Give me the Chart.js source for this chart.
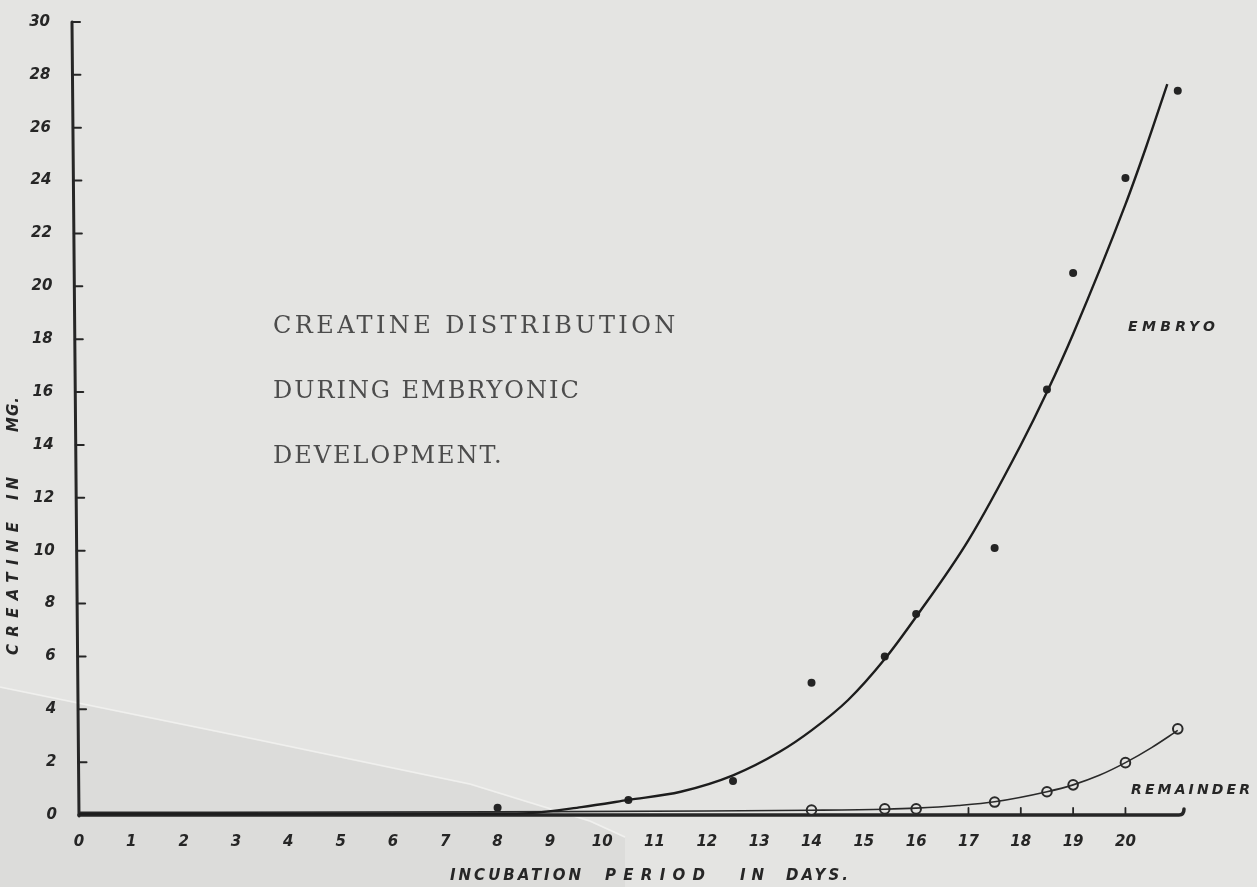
<!DOCTYPE html>
<html>
<head>
<meta charset="utf-8">
<script src="https://cdn.jsdelivr.net/npm/chart.js@4.4.1/dist/chart.umd.min.js"></script>
<style>
  html, body { margin: 0; padding: 0; background: #e4e4e2; overflow: hidden; }
  #wrap { width: 1257px; height: 887px; position: relative; }
</style>
</head>
<body>
<div id="wrap"><canvas id="c" width="1257" height="887"></canvas></div>
<script>
// Creatine (mg) determined in the embryo, by day of incubation
const embryoDays   = [8, 10.5, 12.5, 14, 15.4, 16, 17.5, 18.5, 19, 20, 21];
const embryoValues = [0.27, 0.57, 1.29, 5.0, 6.0, 7.6, 10.1, 16.1, 20.5, 24.1, 27.4];

// Creatine (mg) in the remainder of the egg
const remainderDays   = [14, 15.4, 16, 17.5, 18.5, 19, 20, 21];
const remainderValues = [0.19, 0.23, 0.23, 0.49, 0.88, 1.14, 1.98, 3.26];

// Smooth curves drawn through the determinations
const embryoCurveDays   = [0, 8, 8.6, 9.6, 10.5, 11.5, 12.5, 13.4, 14, 14.7, 15.4, 16, 17, 18, 18.5, 19, 20, 20.4, 20.8];
const embryoCurveValues = [0.04, 0.05, 0.07, 0.3, 0.57, 0.88, 1.5, 2.4, 3.2, 4.35, 5.9, 7.5, 10.4, 14.0, 16.0, 18.2, 23.1, 25.3, 27.65];
const remainderCurveDays   = [0, 8, 12, 14, 15.4, 16, 16.8, 17.5, 18.5, 19, 19.5, 20, 20.5, 21];
const remainderCurveValues = [0.1, 0.12, 0.15, 0.18, 0.22, 0.26, 0.36, 0.5, 0.88, 1.14, 1.5, 1.98, 2.55, 3.2];

// Text
const titleLines = ['CREATINE DISTRIBUTION', 'DURING EMBRYONIC', 'DEVELOPMENT.'];
const xTitleWords = ['INCUBATION', 'PERIOD', 'IN', 'DAYS.'];
const yTitleWords = ['CREATINE', 'IN', 'MG.'];
const seriesNames = ['EMBRYO', 'REMAINDER'];

const PAPER = '#e4e4e2';
const INK = '#262626';
const TICK_FONT = 'italic bold 15px "DejaVu Sans"';

const pts = (xs, ys) => xs.map((d, i) => ({ x: d, y: ys[i] }));

// Spread a word so that it covers the given width, left aligned
function spaced(ctx, text, x, y, width) {
  ctx.letterSpacing = '0px';
  const w = ctx.measureText(text).width;
  const n = text.length;
  const ls = n > 1 ? (width - w) / (n - 1) : 0;
  ctx.letterSpacing = ls + 'px';
  ctx.textAlign = 'left';
  ctx.fillText(text, x, y);
  ctx.letterSpacing = '0px';
}

const paper = {
  id: 'paper',
  beforeDraw(chart) {
    const ctx = chart.ctx;
    ctx.save();
    ctx.fillStyle = PAPER;
    ctx.fillRect(0, 0, chart.width, chart.height);
    // creased, slightly darker corner of the sheet
    ctx.beginPath();
    ctx.moveTo(0, 688);
    ctx.lineTo(240, 737);
    ctx.lineTo(470, 785);
    ctx.lineTo(590, 822);
    ctx.lineTo(625, 838);
    ctx.lineTo(625, 887);
    ctx.lineTo(0, 887);
    ctx.closePath();
    ctx.fillStyle = '#dcdcda';
    ctx.fill();
    ctx.beginPath();
    ctx.moveTo(0, 687);
    ctx.lineTo(240, 736);
    ctx.lineTo(470, 784);
    ctx.lineTo(590, 821);
    ctx.lineTo(625, 837);
    ctx.strokeStyle = '#f0f0ee';
    ctx.lineWidth = 1.5;
    ctx.stroke();
    ctx.restore();
  }
};

const axes = {
  id: 'axes',
  beforeDatasetsDraw(chart) {
    const { ctx, scales: { x, y } } = chart;
    const x0 = x.getPixelForValue(0);
    const y0 = y.getPixelForValue(0);
    const yMax = y.max;
    const lean = 7; // the upright leans slightly left toward its top
    const axisX = v => x0 - lean * (v / yMax);
    ctx.save();
    ctx.strokeStyle = INK;
    ctx.fillStyle = INK;
    ctx.lineCap = 'round';
    // vertical axis
    ctx.lineWidth = 3;
    ctx.beginPath();
    ctx.moveTo(x0, y0 + 1);
    ctx.lineTo(axisX(yMax), y.getPixelForValue(yMax));
    ctx.stroke();
    // inward ticks and their labels on the vertical axis
    ctx.lineWidth = 2;
    ctx.font = TICK_FONT;
    ctx.textAlign = 'right';
    ctx.textBaseline = 'middle';
    y.ticks.forEach(t => {
      const py = y.getPixelForValue(t.value);
      const ax = axisX(t.value);
      if (t.value !== 0) {
        ctx.beginPath();
        ctx.moveTo(ax, py);
        ctx.lineTo(ax + 8, py);
        ctx.stroke();
      }
      ctx.fillText(t.label !== undefined ? String(t.label) : String(t.value), ax - 22, py);
    });
    // horizontal axis with a small upturned end
    const xEnd = x.getPixelForValue(x.max);
    ctx.lineWidth = 3.5;
    ctx.beginPath();
    ctx.moveTo(x0, y0);
    ctx.lineTo(xEnd - 4, y0);
    ctx.quadraticCurveTo(xEnd + 1, y0, xEnd + 1, y0 - 6);
    ctx.stroke();
    // upward ticks, visible over the last days
    ctx.lineWidth = 1.8;
    x.ticks.forEach(t => {
      if (t.value < 17 || t.value > 20) return;
      const px = x.getPixelForValue(t.value);
      ctx.beginPath();
      ctx.moveTo(px, y0);
      ctx.lineTo(px, y0 - 7);
      ctx.stroke();
    });
    ctx.restore();
  }
};

const lettering = {
  id: 'lettering',
  afterDraw(chart) {
    const ctx = chart.ctx;
    ctx.save();
    // typed title
    ctx.font = '24px "DejaVu Serif"';
    ctx.fillStyle = '#4c4c4c';
    ctx.textBaseline = 'alphabetic';
    const pitch = 19.3;
    titleLines.forEach((line, i) => {
      spaced(ctx, line, 273, 333 + i * 65, line.length * pitch - 3);
    });

    // hand lettering
    ctx.fillStyle = INK;
    ctx.font = 'italic bold 14px "DejaVu Sans"';
    spaced(ctx, seriesNames[0], 1128, 331, 87);
    spaced(ctx, seriesNames[1], 1131, 794, 119);

    // horizontal axis title
    ctx.font = 'italic bold 15px "DejaVu Sans"';
    const xPos = [[450, 131], [605, 100], [740, 24], [786, 62]];
    xTitleWords.forEach((w, i) => spaced(ctx, w, xPos[i][0], 880, xPos[i][1]));

    // vertical axis title, reading upward
    const yPos = [[655, 133], [500, 23], [432, 35]];
    yTitleWords.forEach((w, i) => {
      ctx.save();
      ctx.translate(18, yPos[i][0]);
      ctx.rotate(-Math.PI / 2);
      spaced(ctx, w, 0, 0, yPos[i][1]);
      ctx.restore();
    });
    ctx.restore();
  }
};

new Chart(document.getElementById('c'), {
  type: 'scatter',
  data: {
    datasets: [
      {
        label: 'Embryo curve',
        data: pts(embryoCurveDays, embryoCurveValues),
        showLine: true,
        pointRadius: 0,
        borderColor: '#1d1d1d',
        borderWidth: 2.4,
        cubicInterpolationMode: 'monotone',
        fill: false
      },
      {
        label: 'Remainder curve',
        data: pts(remainderCurveDays, remainderCurveValues),
        showLine: true,
        pointRadius: 0,
        borderColor: '#2a2a2a',
        borderWidth: 1.6,
        cubicInterpolationMode: 'monotone',
        fill: false
      },
      {
        label: seriesNames[0],
        data: pts(embryoDays, embryoValues),
        showLine: false,
        pointRadius: 4,
        pointBackgroundColor: '#242424',
        pointBorderWidth: 0
      },
      {
        label: seriesNames[1],
        data: pts(remainderDays, remainderValues),
        showLine: false,
        pointRadius: 4.8,
        pointBackgroundColor: PAPER,
        pointBorderColor: '#2a2a2a',
        pointBorderWidth: 2
      }
    ]
  },
  options: {
    responsive: false,
    animation: false,
    devicePixelRatio: 1,
    clip: false,
    layout: { padding: { left: 0, right: 74, top: 22, bottom: 0 } },
    plugins: { legend: { display: false }, tooltip: { enabled: false } },
    scales: {
      x: {
        type: 'linear',
        min: 0,
        max: 21.1,
        afterBuildTicks: s => { s.ticks = s.ticks.filter(t => Number.isInteger(t.value)); },
        afterFit: s => { s.height = 72; },
        ticks: {
          stepSize: 1,
          padding: 18,
          autoSkip: false,
          maxRotation: 0,
          color: INK,
          font: { family: 'DejaVu Sans', size: 15, style: 'italic', weight: 'bold' }
        },
        grid: { display: false, drawTicks: false },
        border: { display: false }
      },
      y: {
        min: 0,
        max: 30,
        afterFit: s => { s.width = 79; },
        ticks: { stepSize: 2, display: false },
        grid: { display: false, drawTicks: false },
        border: { display: false }
      }
    }
  },
  plugins: [paper, axes, lettering]
});
</script>
</body>
</html>
